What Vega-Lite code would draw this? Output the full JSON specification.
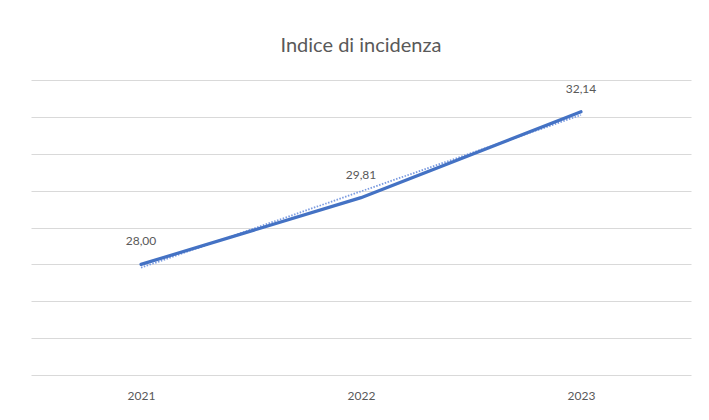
{
  "$schema": "https://vega.github.io/schema/vega-lite/v6.json",
  "width": 660,
  "height": 295,
  "autosize": "none",
  "padding": {"left": 31, "top": 80, "right": 18, "bottom": 45},
  "background": "white",
  "config": {
    "view": {"stroke": null},
    "font": "Lato",
    "locale": {"number": {"decimal": ",", "thousands": ".", "grouping": [3], "currency": ["€", ""]}}
  },
  "title": {"text": "Indice di incidenza", "fontSize": 20, "fontWeight": "normal", "color": "#595959", "font": "Lato", "offset": 24, "anchor": "middle"},
  "datasets": {
    "main": [
      {"anno": "2021", "valore": 28.00},
      {"anno": "2022", "valore": 29.81},
      {"anno": "2023", "valore": 32.14}
    ],
    "trend": [
      {"anno": "2021", "valore": 27.91},
      {"anno": "2022", "valore": 29.98},
      {"anno": "2023", "valore": 32.05}
    ]
  },
  "encoding": {
    "x": {"field": "anno", "type": "ordinal", "scale": {"type": "point", "padding": 0.5},
      "axis": {"title": null, "labelAngle": 0, "ticks": false, "domain": false, "labelPadding": 15, "labelFontSize": 12, "labelColor": "#595959", "labelFont": "Lato"}},
    "y": {"field": "valore", "type": "quantitative", "scale": {"domain": [25, 33], "nice": false, "zero": false},
      "axis": {"title": null, "labels": false, "ticks": false, "domain": false, "values": [25,26,27,28,29,30,31,32,33], "gridColor": "#d9d9d9", "gridWidth": 1}}
  },
  "layer": [
    {"data": {"name": "trend"}, "mark": {"type": "line", "color": "#7b9be0", "strokeWidth": 1.8, "strokeDash": [1.5, 1.5]}},
    {"data": {"name": "main"}, "mark": {"type": "line", "color": "#4472C4", "strokeWidth": 3.2, "strokeCap": "round"}},
    {"data": {"name": "main"}, "mark": {"type": "text", "dy": -23, "fontSize": 12, "color": "#595959", "font": "Lato"},
      "encoding": {"text": {"field": "valore", "type": "quantitative", "format": ".2f"}}}
  ]
}
